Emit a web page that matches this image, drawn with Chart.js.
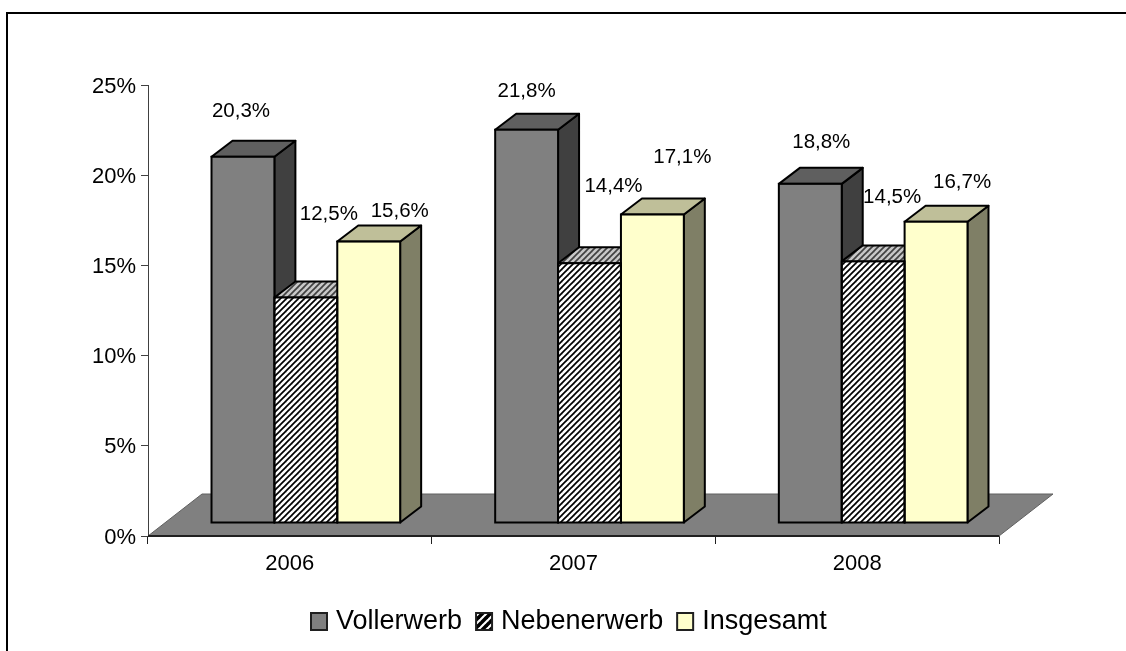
<!DOCTYPE html>
<html>
<head>
<meta charset="utf-8">
<title>Chart</title>
<script src="https://cdn.jsdelivr.net/npm/chart.js@4"></script>
<style>
    html, body { margin: 0; padding: 0; background: #fff; }
    #wrap { width: 1126px; height: 651px; }
</style>
</head>
<body>
<div id="wrap"><canvas id="mainChart" width="1126" height="651"></canvas></div>
<script>
// Data
const categories = ['2006', '2007', '2008'];
const vollerwerb = [20.3, 21.8, 18.8];
const nebenerwerb = [12.5, 14.4, 14.5];
const insgesamt = [15.6, 17.1, 16.7];
const yTicks = [0, 5, 10, 15, 20, 25];
const seriesNames = ['Vollerwerb', 'Nebenerwerb', 'Insgesamt'];

// Hand placed value labels in the original: px offset from the bar's top centre
const labelShiftX = [[-2, 23, 31], [0, 24, 30], [11, 19, 26]];
const labelShiftY = [[-45, -83, -30], [-38, -77, -57], [-42, -64, -39]];

const FONT = '"Liberation Sans", Arial, sans-serif';
const SHIFT_X = 16, SHIFT_Y = -13;   // bars stand inside the floor
const DEPTH_X = 21, DEPTH_Y = -16;

// Diagonal hatch fill
function hatch(fg, bg, size, width) {
    const c = document.createElement('canvas');
    c.width = size;
    c.height = size;
    const g = c.getContext('2d');
    g.fillStyle = bg;
    g.fillRect(0, 0, size, size);
    g.strokeStyle = fg;
    g.lineWidth = width;
    for (let i = -size; i <= size; i += size) {
        g.beginPath();
        g.moveTo(i - 1, size + 1);
        g.lineTo(i + size + 1, -1);
        g.stroke();
    }
    return g.createPattern(c, 'repeat');
}

const fronts = ['#808080', hatch('#000000', '#ffffff', 6, 1.7), '#ffffcc'];
const tops = ['#5f5f5f', hatch('#404040', '#c8c8c8', 6, 1.7), '#bfbf99'];
const sides = ['#404040', hatch('#000000', '#808080', 6, 1.7), '#7f7f66'];
const legendFills = ['#808080', hatch('#000000', '#ffffff', 8, 3.6), '#ffffcc'];

function face(ctx, pts, fill) {
    ctx.beginPath();
    pts.forEach((p, i) => (i ? ctx.lineTo(p[0], p[1]) : ctx.moveTo(p[0], p[1])));
    ctx.closePath();
    ctx.fillStyle = fill;
    ctx.fill();
    ctx.stroke();
}

// Floor and the side/top faces, the fronts come from the bar elements
const bars3d = {
    id: 'bars3d',
    beforeDatasetsDraw(chart) {
        const ctx = chart.ctx;
        const a = chart.chartArea;
        const floorY = a.bottom - 42;
        ctx.save();
        ctx.fillStyle = '#808080';
        ctx.strokeStyle = '#606060';
        ctx.lineWidth = 1;
        ctx.beginPath();
        ctx.moveTo(a.left, a.bottom);
        ctx.lineTo(a.left + 54, floorY);
        ctx.lineTo(a.right + 54, floorY);
        ctx.lineTo(a.right, a.bottom);
        ctx.closePath();
        ctx.fill();
        ctx.stroke();
        ctx.strokeStyle = '#202020';
        ctx.lineWidth = 2;
        ctx.beginPath();
        ctx.moveTo(a.left, a.bottom);
        ctx.lineTo(a.right, a.bottom);
        ctx.stroke();

        ctx.translate(SHIFT_X, SHIFT_Y);
        ctx.strokeStyle = '#000';
        ctx.lineWidth = 2;
        ctx.lineJoin = 'round';
        chart.data.datasets.forEach((ds, d) => {
            chart.getDatasetMeta(d).data.forEach(bar => {
                const l = bar.x - bar.width / 2, r = bar.x + bar.width / 2;
                const t = bar.y, b = bar.base;
                face(ctx, [[r, t], [r + DEPTH_X, t + DEPTH_Y], [r + DEPTH_X, b + DEPTH_Y], [r, b]], sides[d]);
                face(ctx, [[l, t], [l + DEPTH_X, t + DEPTH_Y], [r + DEPTH_X, t + DEPTH_Y], [r, t]], tops[d]);
            });
        });
        ctx.restore();
        // stays translated for the fronts, undone in afterDatasetsDraw
        ctx.save();
        ctx.translate(SHIFT_X, SHIFT_Y);
    },
    afterDatasetsDraw(chart) {
        const ctx = chart.ctx;
        // outline of the front faces
        ctx.strokeStyle = '#000';
        ctx.lineWidth = 2;
        chart.data.datasets.forEach((ds, d) => {
            chart.getDatasetMeta(d).data.forEach(bar => {
                ctx.strokeRect(bar.x - bar.width / 2, bar.y, bar.width, bar.base - bar.y);
            });
        });
        ctx.restore();
        ctx.save();
        ctx.fillStyle = '#000';
        ctx.font = '20.5px ' + FONT;
        ctx.textAlign = 'center';
        ctx.textBaseline = 'middle';
        chart.data.datasets.forEach((ds, d) => {
            chart.getDatasetMeta(d).data.forEach((bar, i) => {
                const text = ds.data[i].toFixed(1).replace('.', ',') + '%';
                ctx.fillText(text, bar.x + SHIFT_X + labelShiftX[i][d], bar.y + SHIFT_Y + labelShiftY[i][d]);
            });
        });
        ctx.restore();
    },
    afterDraw(chart) {
        const ctx = chart.ctx;
        ctx.save();
        // outer frame, only top and left are inside the picture
        ctx.strokeStyle = '#000';
        ctx.lineWidth = 2;
        ctx.strokeRect(7, 13, 1200, 800);
        // legend
        ctx.font = '27px ' + FONT;
        ctx.textBaseline = 'middle';
        ctx.textAlign = 'left';
        let x = 311;
        seriesNames.forEach((name, d) => {
            ctx.strokeStyle = '#202020';
            ctx.fillStyle = legendFills[d];
            ctx.fillRect(x, 613, 16, 17);
            ctx.strokeRect(x, 613, 16, 17);
            ctx.fillStyle = '#000';
            ctx.fillText(name, x + 25, 622);
            x += 25 + ctx.measureText(name).width + 14;
        });
        ctx.restore();
    }
};

const seriesValues = [vollerwerb, nebenerwerb, insgesamt];

new Chart(document.getElementById('mainChart').getContext('2d'), {
    type: 'bar',
    plugins: [bars3d],
    data: {
        labels: categories,
        datasets: seriesNames.map((name, d) => ({
            label: name,
            data: seriesValues[d],
            backgroundColor: fronts[d],
            borderWidth: 0,
            categoryPercentage: 0.665,
            barPercentage: 1
        }))
    },
    options: {
        responsive: false,
        animation: false,
        layout: { padding: { top: 85, right: 127 } },
        plugins: { legend: { display: false }, tooltip: { enabled: false } },
        scales: {
            x: {
                afterFit(scale) { scale.height = 115; },
                grid: { drawOnChartArea: false, color: '#202020', tickLength: 8, offset: true },
                border: { color: '#404040' },
                ticks: { color: '#000', font: { family: FONT, size: 22 }, padding: 7, maxRotation: 0 }
            },
            y: {
                min: 0,
                max: 25,
                afterFit(scale) { scale.width = 148; },
                afterBuildTicks(scale) { scale.ticks = yTicks.map(v => ({ value: v })); },
                grid: { drawOnChartArea: false, color: '#404040', tickLength: 7 },
                border: { color: '#404040' },
                ticks: {
                    color: '#000',
                    font: { family: FONT, size: 22 },
                    padding: 5,
                    labelOffset: 1.5,
                    callback: v => v + '%'
                }
            }
        }
    }
});
</script>
</body>
</html>
